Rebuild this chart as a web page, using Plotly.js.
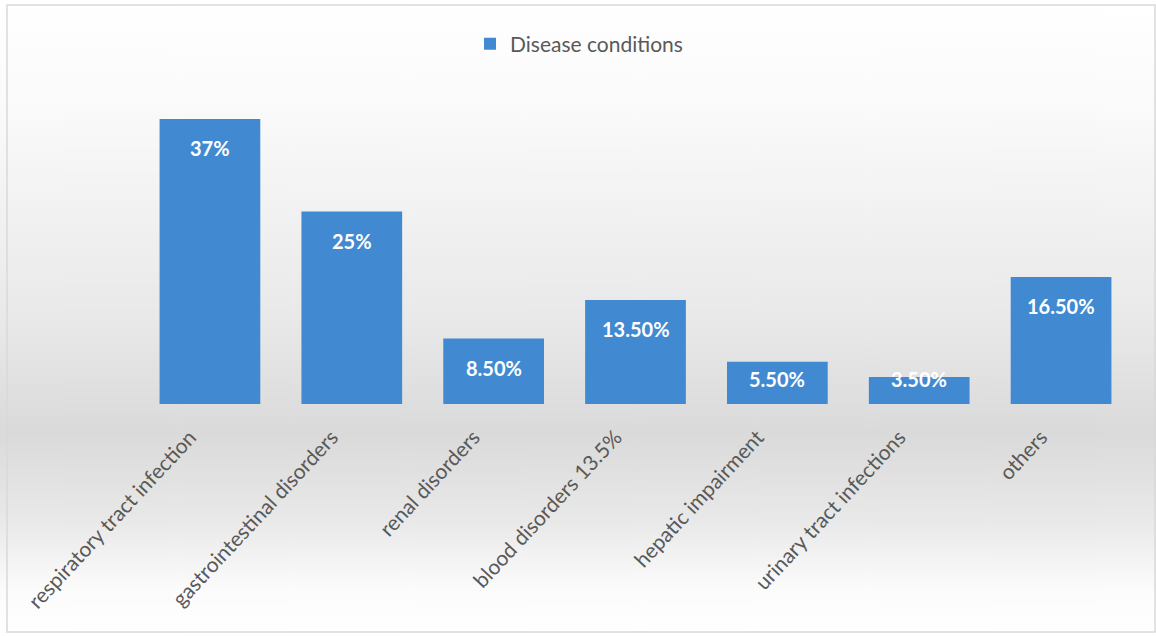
<!DOCTYPE html>
<html>
<head>
<meta charset="utf-8">
<script src="https://cdn.plot.ly/plotly-3.0.1.min.js"></script>
<style>html,body{margin:0;padding:0;background:#fff;}#chart{width:1156px;height:636px;}</style>
</head>
<body>
<div id="chart"></div>
<script>
const categories = ["respiratory tract infection","gastrointestinal disorders","renal disorders","blood disorders 13.5%","hepatic impairment","urinary tract infections","others"];
const values = [37, 25, 8.5, 13.5, 5.5, 3.5, 16.5];
const valueLabels = ["37%","25%","8.50%","13.50%","5.50%","3.50%","16.50%"];
const seriesName = "Disease conditions";

const W = 1156, H = 636, ML = 139, MR = 24, MT = 96, MB = 232;
const plotH = H - MT - MB, plotW = W - ML - MR;
const yMax = 40;
const pxPerUnit = plotH / yMax;

// background gradient image
const cv = document.createElement('canvas');
cv.width = 10; cv.height = H;
const ctx = cv.getContext('2d');
const g = ctx.createLinearGradient(0, 0, 0, H);
g.addColorStop(0, '#ffffff');
g.addColorStop(0.15, '#fbfbfb');
g.addColorStop(0.5, '#e9e9e9');
g.addColorStop(0.68, '#dadada');
g.addColorStop(0.82, '#e9e9e9');
g.addColorStop(0.93, '#fcfcfc');
g.addColorStop(1, '#ffffff');
ctx.fillStyle = g; ctx.fillRect(0, 0, 10, H);
const bg = cv.toDataURL();

const trace = {
  type: 'bar',
  x: categories,
  y: values,
  name: seriesName,
  marker: {color: '#418ad1', line: {width: 0}},
  hoverinfo: 'none',
  showlegend: true
};

// value labels: inside end, clamped so they stay near the baseline for short bars
const annotations = categories.map((c, i) => {
  const barPx = values[i] * pxPerUnit;
  const fromTop = Math.min(29, barPx - 25);
  return {
    x: c, y: values[i], xref: 'x', yref: 'y', text: valueLabels[i], showarrow: false,
    yanchor: 'middle', xanchor: 'center', yshift: -fromTop,
    font: {family: 'Lato, "Open Sans", sans-serif', size: 20, color: '#ffffff', weight: 'bold'}
  };
});

const layout = {
  width: W, height: H,
  margin: {l: ML, r: MR, t: MT, b: MB, autoexpand: false},
  paper_bgcolor: 'rgba(0,0,0,0)',
  plot_bgcolor: 'rgba(0,0,0,0)',
  bargap: 0.29,
  showlegend: true,
  legend: {orientation: 'h', xref: 'container', yref: 'container', x: 470 / W, xanchor: 'left', y: 1 - 44 / H, yanchor: 'middle',
           font: {family: 'Lato, "Open Sans", sans-serif', size: 21, color: '#595959'}, bgcolor: 'rgba(0,0,0,0)'},
  xaxis: {
    type: 'category', tickangle: -47, showgrid: false, zeroline: false, showline: false,
    ticks: '', ticklabelstandoff: 16, ticklabelshift: -20,
    tickfont: {family: 'Lato, "Open Sans", sans-serif', size: 21, color: '#595959'}
  },
  yaxis: {range: [0, yMax], visible: false, showgrid: false, zeroline: false, fixedrange: true},
  annotations: annotations,
  images: [{source: bg, xref: 'paper', yref: 'paper', x: -ML / plotW, y: 1 + MT / plotH, sizex: W / plotW, sizey: H / plotH,
            xanchor: 'left', yanchor: 'top', sizing: 'stretch', layer: 'below'}],
  shapes: [{type: 'rect', xref: 'paper', yref: 'paper', x0: (7 - ML) / plotW, x1: (1155 - ML) / plotW, y0: (MT + plotH - 632) / plotH, y1: (MT + plotH - 5) / plotH,
            line: {color: '#d9d9d9', width: 1.5}, fillcolor: 'rgba(0,0,0,0)', layer: 'above'}]
};

Plotly.newPlot('chart', [trace], layout, {displayModeBar: false, staticPlot: true});
</script>
</body>
</html>
